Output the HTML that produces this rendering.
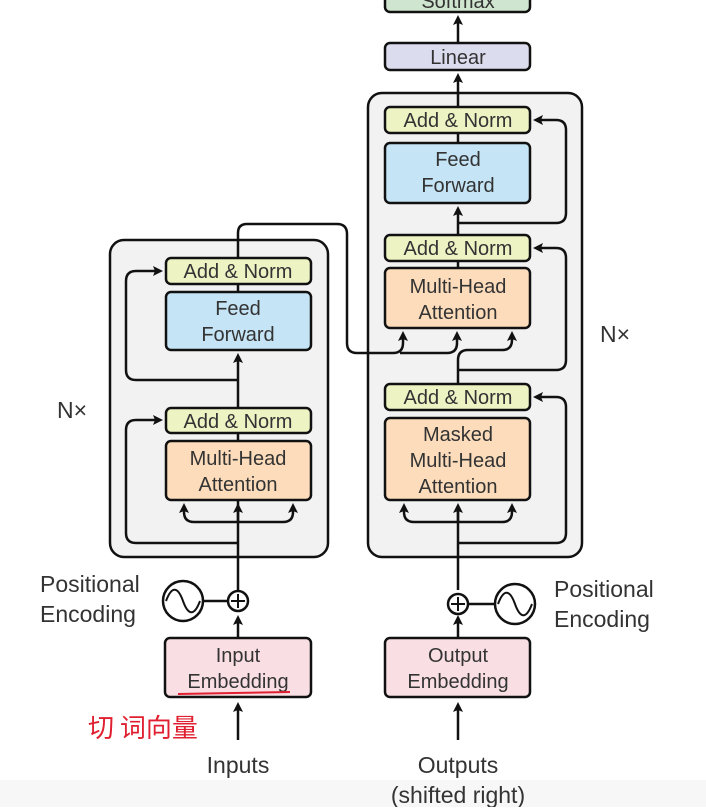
<!DOCTYPE html>
<html><head><meta charset="utf-8"><style>
html,body{margin:0;padding:0;background:#fff;}
svg text{font-family:"Liberation Sans",sans-serif;fill:#333;}
</style></head><body>
<svg width="706" height="807" viewBox="0 0 706 807" xmlns="http://www.w3.org/2000/svg">
<defs><marker id="a" markerWidth="10" markerHeight="10" refX="7" refY="5" orient="auto" markerUnits="userSpaceOnUse"><path d="M0,0 L10,5 L0,10 L2,5 z" fill="#111"/></marker></defs>
<rect x="0" y="0" width="706" height="807" fill="#fff"/>
<rect x="0" y="780" width="706" height="27" fill="#f7f7f7"/>
<rect x="110" y="240" width="218" height="317" rx="14" fill="#f2f2f2" stroke="#111" stroke-width="2.5"/>
<rect x="368" y="93" width="214" height="464" rx="14" fill="#f2f2f2" stroke="#111" stroke-width="2.5"/>
<g fill="none" stroke="#111" stroke-width="2.5">
<path d="M238 740 L238 705" marker-end="url(#a)"/>
<path d="M238 638 L238 618" marker-end="url(#a)"/>
<path d="M238 590 L238 433"/>
<path d="M238 543 L136 543 Q126 543 126 533 L126 430 Q126 420 136 420 L160 420" marker-end="url(#a)"/>
<path d="M238 522 L194 522 Q184 522 184 512 L184 506" marker-end="url(#a)"/>
<path d="M238 522 L283 522 Q293 522 293 512 L293 506" marker-end="url(#a)"/>
<path d="M238 522 L238 506" marker-end="url(#a)"/>
<path d="M238 408 L238 356" marker-end="url(#a)"/>
<path d="M238 380 L136 380 Q126 380 126 370 L126 281 Q126 271 136 271 L160 271" marker-end="url(#a)"/>
<path d="M238 292 L238 284"/>
<path d="M238 258 L238 233 Q238 224 247 224 L337 224 Q347 224 347 234 L347 343 Q347 353 357 353 L393 353 Q403 353 403 343 L403 334" marker-end="url(#a)"/>
<path d="M400 353 L447 353 Q457 353 457 343 L457 334" marker-end="url(#a)"/>
<path d="M203 601 L228 601"/>
<path d="M458 740 L458 705" marker-end="url(#a)"/>
<path d="M458 638 L458 618" marker-end="url(#a)"/>
<path d="M458 590 L458 506"/>
<path d="M458 543 L556 543 Q566 543 566 533 L566 407 Q566 397 556 397 L536 397" marker-end="url(#a)"/>
<path d="M458 522 L414 522 Q404 522 404 512 L404 506" marker-end="url(#a)"/>
<path d="M458 522 L502 522 Q512 522 512 512 L512 506" marker-end="url(#a)"/>
<path d="M458 522 L458 506" marker-end="url(#a)"/>
<path d="M458 384 L458 360 Q458 350 468 350 L502 350 Q512 350 512 340 L512 334" marker-end="url(#a)"/>
<path d="M458 370 L556 370 Q566 370 566 360 L566 258 Q566 248 556 248 L536 248" marker-end="url(#a)"/>
<path d="M458 268 L458 261"/>
<path d="M458 235 L458 209" marker-end="url(#a)"/>
<path d="M458 223 L556 223 Q566 223 566 213 L566 130 Q566 120 556 120 L536 120" marker-end="url(#a)"/>
<path d="M458 143 L458 133"/>
<path d="M458 107 L458 76" marker-end="url(#a)"/>
<path d="M458 43 L458 18" marker-end="url(#a)"/>
<path d="M468 604 L495 604"/>
</g>
<g stroke="#111" stroke-width="2.5">
<rect x="166" y="258" width="145" height="26" rx="5" fill="#eef3c4"/>
<rect x="166" y="292" width="145" height="58" rx="5" fill="#c5e4f5"/>
<rect x="166" y="408" width="145" height="25" rx="5" fill="#eef3c4"/>
<rect x="166" y="441" width="145" height="59" rx="5" fill="#fcdcbb"/>
<rect x="165" y="638" width="146" height="59" rx="5" fill="#f9dfe3"/>
<rect x="385" y="107" width="145" height="26" rx="5" fill="#eef3c4"/>
<rect x="385" y="143" width="145" height="60" rx="5" fill="#c5e4f5"/>
<rect x="385" y="235" width="145" height="26" rx="5" fill="#eef3c4"/>
<rect x="385" y="268" width="145" height="60" rx="5" fill="#fcdcbb"/>
<rect x="385" y="384" width="145" height="26" rx="5" fill="#eef3c4"/>
<rect x="385" y="418" width="145" height="82" rx="5" fill="#fcdcbb"/>
<rect x="385" y="638" width="145" height="59" rx="5" fill="#f9dfe3"/>
<rect x="385" y="43" width="145" height="27" rx="5" fill="#dcdcef"/>
<rect x="385" y="-15" width="145" height="27" rx="5" fill="#cfe5cf"/>
<circle cx="238" cy="601" r="10" fill="#fff"/>
<circle cx="458" cy="604" r="10" fill="#fff"/>
<circle cx="183" cy="601" r="20" fill="#fff"/>
<circle cx="515" cy="604" r="20" fill="#fff"/>
</g>
<g stroke="#111" stroke-width="2" fill="none">
<path d="M231 601 H245 M238 594 V608 M451 604 H465 M458 597 V611"/>
<path d="M166 601 C172 585 178 587 183 601 C188 615 194 617 200 601"/>
<path d="M498 604 C504 588 510 590 515 604 C520 618 526 620 532 604"/>
</g>
<g font-size="20" text-anchor="middle">
<text x="238" y="278">Add &amp; Norm</text>
<text x="238" y="315">Feed</text><text x="238" y="341">Forward</text>
<text x="238" y="428">Add &amp; Norm</text>
<text x="238" y="465">Multi-Head</text><text x="238" y="491">Attention</text>
<text x="238" y="662">Input</text><text x="238" y="688">Embedding</text>
<text x="458" y="127">Add &amp; Norm</text>
<text x="458" y="166">Feed</text><text x="458" y="192">Forward</text>
<text x="458" y="255">Add &amp; Norm</text>
<text x="458" y="293">Multi-Head</text><text x="458" y="319">Attention</text>
<text x="458" y="404">Add &amp; Norm</text>
<text x="458" y="441">Masked</text><text x="458" y="467">Multi-Head</text><text x="458" y="493">Attention</text>
<text x="458" y="662">Output</text><text x="458" y="688">Embedding</text>
<text x="458" y="64">Linear</text>
<text x="458" y="8">Softmax</text>
</g>
<g font-size="23">
<text x="40" y="592">Positional</text><text x="40" y="622">Encoding</text>
<text x="554" y="597">Positional</text><text x="554" y="627">Encoding</text>
<text x="57" y="418">N×</text>
<text x="600" y="342">N×</text>
<text x="238" y="773" text-anchor="middle">Inputs</text>
<text x="458" y="773" text-anchor="middle">Outputs</text>
<text x="458" y="803" text-anchor="middle">(shifted right)</text>
</g>
<path d="M178 694 L290 692" stroke="#e02030" stroke-width="2" fill="none"/>
<text x="88" y="737" font-size="26" style="fill:#e02030;font-family:'Noto Sans CJK SC',sans-serif">切 词向量</text>
</svg>
</body></html>
